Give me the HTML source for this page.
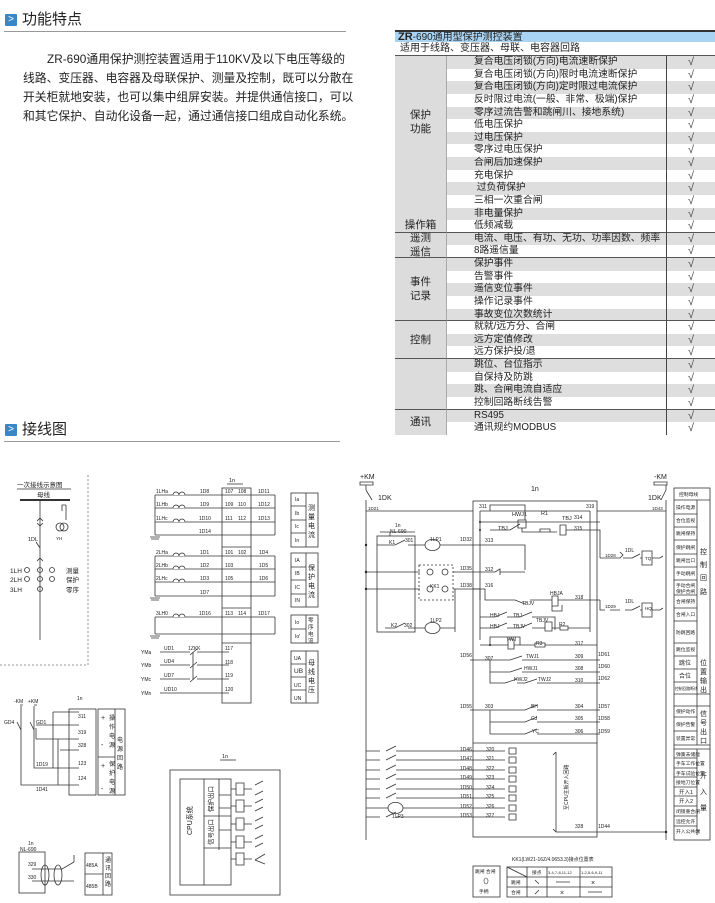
<!DOCTYPE html>
<html><head><meta charset="utf-8">
<style>
*{margin:0;padding:0;box-sizing:border-box}
body{width:715px;height:903px;background:#fff;position:relative;overflow:hidden;font-family:"Liberation Sans","Noto Sans CJK SC",sans-serif;color:#222}
.hd{position:absolute;left:5px;font-size:15px;color:#222}
.hd .ic{display:inline-block;width:12px;height:12px;background:#3a87c8;color:#fff;font-size:10px;line-height:12px;text-align:center;vertical-align:2px;margin-right:5px;border-radius:1px}
.hr{position:absolute;left:4px;height:1px;background:#999}
.pl{position:absolute;font-size:11.8px;line-height:15px;white-space:nowrap;text-align:justify;text-align-last:justify;color:#222}
#tbl{position:absolute;left:395px;top:30px;width:320px}
.grid{display:grid;grid-template-columns:52px 220px 48px;grid-auto-rows:12.63px;font-size:9.8px}
.g{background:#dcdcdc;border-right:1px solid #aaa;display:flex;flex-direction:column;justify-content:center;align-items:center;font-size:10.5px;line-height:14px;border-bottom:1px solid #555}
.it{padding-left:27px;line-height:12.6px;white-space:nowrap;border-right:1px solid #444}
.ck{text-align:center;line-height:12.6px;font-size:11px;color:#444}
.s{background:#dedede}
.sep{border-bottom:1px solid #555}
svg text{font-family:"Liberation Sans","Noto Sans CJK SC",sans-serif}
</style></head><body>
<div class="hd" style="top:8px"><span class="ic">&gt;</span>功能特点</div>
<div class="hr" style="top:31px;width:342px"></div>
<div class="pl" style="left:47px;top:52px;width:298px">ZR-690通用保护测控装置适用于110KV及以下电压等级的</div>
<div class="pl" style="left:23px;top:71px;width:322px">线路、变压器、电容器及母联保护、测量及控制，既可以分散在</div>
<div class="pl" style="left:23px;top:90px;width:322px">开关柜就地安装，也可以集中组屏安装。并提供通信接口，可以</div>
<div class="pl" style="left:23px;top:109px;width:310px">和其它保护、自动化设备一起，通过通信接口组成自动化系统。</div>
<div class="hd" style="top:418px"><span class="ic">&gt;</span>接线图</div>
<div class="hr" style="top:441px;width:336px"></div>

<div id="tbl">
<div style="height:12px;background:#a9d3f2;border-top:2px solid #333;font-size:10px;line-height:10px;padding-left:3px"><b style="font-size:11px">ZR</b>-690通用型保护测控装置</div>
<div style="height:14px;font-size:10px;line-height:13px;padding-left:5px;border-bottom:1px solid #555">适用于线路、变压器、母联、电容器回路</div>
<div class="grid">
<div class="g" style="grid-row:1/15;justify-content:space-between;padding:52px 0 0"><span>保护<br>功能</span><span>操作箱</span></div>
<div class="it s">复合电压闭锁(方向)电流速断保护</div><div class="ck s">√</div>
<div class="it">复合电压闭锁(方向)限时电流速断保护</div><div class="ck">√</div>
<div class="it s">复合电压闭锁(方向)定时限过电流保护</div><div class="ck s">√</div>
<div class="it">反时限过电流(一般、非常、极端)保护</div><div class="ck">√</div>
<div class="it s">零序过流告警和跳闸川、接地系统)</div><div class="ck s">√</div>
<div class="it">低电压保护</div><div class="ck">√</div>
<div class="it s">过电压保护</div><div class="ck s">√</div>
<div class="it">零序过电压保护</div><div class="ck">√</div>
<div class="it s">合闸后加速保护</div><div class="ck s">√</div>
<div class="it">充电保护</div><div class="ck">√</div>
<div class="it s">&nbsp;过负荷保护</div><div class="ck s">√</div>
<div class="it">三相一次重合闸</div><div class="ck">√</div>
<div class="it s">非电量保护</div><div class="ck s">√</div>
<div class="it sep">低频减载</div><div class="ck sep">√</div>
<div class="g" style="grid-row:15/17">遥测<br>遥信</div>
<div class="it s">电流、电压、有功、无功、功率因数、频率</div><div class="ck s">√</div>
<div class="it sep">8路遥信量</div><div class="ck sep">√</div>
<div class="g" style="grid-row:17/22">事件<br>记录</div>
<div class="it s">保护事件</div><div class="ck s">√</div>
<div class="it">告警事件</div><div class="ck">√</div>
<div class="it s">遥信变位事件</div><div class="ck s">√</div>
<div class="it">操作记录事件</div><div class="ck">√</div>
<div class="it s sep">事故变位次数统计</div><div class="ck s sep">√</div>
<div class="g" style="grid-row:22/25">控制</div>
<div class="it">就就/远方分、合闸</div><div class="ck">√</div>
<div class="it s">远方定值修改</div><div class="ck s">√</div>
<div class="it sep">远方保护投/退</div><div class="ck sep">√</div>
<div class="g" style="grid-row:25/29"></div>
<div class="it s">跳位、台位指示</div><div class="ck s">√</div>
<div class="it">自保持及防跳</div><div class="ck">√</div>
<div class="it s">跳、合闸电流自适应</div><div class="ck s">√</div>
<div class="it sep">控制回路断线告警</div><div class="ck sep">√</div>
<div class="g" style="grid-row:29/31;border-bottom:none">通讯</div>
<div class="it s">RS495</div><div class="ck s">√</div>
<div class="it">通讯规约MODBUS</div><div class="ck">√</div>
</div></div>

<svg width="715" height="903" style="position:absolute;left:0;top:0" stroke="#333" stroke-width="0.8" fill="none" font-size="5.5">
<!-- primary diagram -->
<g>
<path d="M88 475V665M0 665H88" stroke-dasharray="2,2" stroke="#777"/>
<text x="17" y="487" fill="#222" stroke="none" font-size="6.5">一次接线示意图</text>
<path d="M17 489H71"/>
<text x="37" y="497" fill="#222" stroke="none" font-size="6.5">母线</text>
<path d="M20 500H70" stroke-width="2"/>
<path d="M40 500V640M40 518l-3 3M40 518l3 3M40 526l-3-3M40 526l3-3M40 548l-4-6M40 558l-3 3M40 558l3 3M66 505v15M66 505l-4 0v6"/>
<circle cx="60" cy="527" r="4"/><circle cx="64" cy="527" r="4"/>
<text x="28" y="541" fill="#222" stroke="none">1DL</text>
<text x="56" y="540" fill="#222" stroke="none" font-size="4.5">YH</text>
<text x="10" y="573" fill="#222" stroke="none" font-size="6.5">1LH</text>
<text x="10" y="582" fill="#222" stroke="none" font-size="6.5">2LH</text>
<text x="10" y="592" fill="#222" stroke="none" font-size="6.5">3LH</text>
<circle cx="27" cy="570" r="2.5"/><circle cx="40" cy="570" r="2.5"/><circle cx="52" cy="570" r="2.5"/>
<circle cx="27" cy="579" r="2.5"/><circle cx="40" cy="579" r="2.5"/><circle cx="52" cy="579" r="2.5"/>
<circle cx="40" cy="589" r="2.5"/>
<text x="66" y="573" fill="#222" stroke="none" font-size="6.5">测量</text>
<text x="66" y="582" fill="#222" stroke="none" font-size="6.5">保护</text>
<text x="66" y="592" fill="#222" stroke="none" font-size="6.5">零序</text>
</g>
<!-- CT section -->
<g>
<text x="229" y="482" fill="#222" stroke="none">1n</text><path d="M227 484H243"/>
<rect x="222" y="488" width="29" height="215"/>
<path d="M222 547H251M222 608H251M222 643H251"/>
<path d="M155 495V535M155 556V596M155 617V634M150 537h10M151 539h8M150 598h10M151 600h8M150 636h10M151 638h8"/>
<path d="M155 495H275M155 508H275M155 522H275M155 535H275M275 495V535"/>
<path d="M155 556H275M155 569H275M155 582H275M155 596H275M275 556V596"/>
<path d="M155 617H275M155 634H275M275 617V634"/>
<g fill="#fff"><path d="M173 495a3 3 0 0 1 6 0a3 3 0 0 1 6 0M173 508a3 3 0 0 1 6 0a3 3 0 0 1 6 0M173 522a3 3 0 0 1 6 0a3 3 0 0 1 6 0M173 556a3 3 0 0 1 6 0a3 3 0 0 1 6 0M173 569a3 3 0 0 1 6 0a3 3 0 0 1 6 0M173 582a3 3 0 0 1 6 0a3 3 0 0 1 6 0M173 617a3 3 0 0 1 6 0a3 3 0 0 1 6 0"/></g>
<g fill="#222" stroke="none" font-size="5">
<text x="156" y="493">1LHa</text><text x="156" y="506">1LHb</text><text x="156" y="520">1LHc</text>
<text x="156" y="554">2LHa</text><text x="156" y="567">2LHb</text><text x="156" y="580">2LHc</text><text x="156" y="615">3LH0</text>
<text x="200" y="493">1D8</text><text x="200" y="506">1D9</text><text x="199" y="520">1D10</text><text x="199" y="533">1D14</text>
<text x="200" y="554">1D1</text><text x="200" y="567">1D2</text><text x="200" y="580">1D3</text><text x="200" y="594">1D7</text><text x="199" y="615">1D16</text>
<text x="225" y="493">107</text><text x="238" y="493">108</text><text x="225" y="506">109</text><text x="238" y="506">110</text><text x="225" y="520">111</text><text x="238" y="520">112</text>
<text x="225" y="554">101</text><text x="238" y="554">102</text><text x="225" y="567">103</text><text x="225" y="580">105</text>
<text x="225" y="615">113</text><text x="238" y="615">114</text>
<text x="258" y="493">1D11</text><text x="258" y="506">1D12</text><text x="258" y="520">1D13</text>
<text x="259" y="554">1D4</text><text x="259" y="567">1D5</text><text x="259" y="580">1D6</text><text x="258" y="615">1D17</text>
<text x="225" y="650">117</text><text x="225" y="664">118</text><text x="225" y="677">119</text><text x="225" y="691">120</text>
<text x="141" y="654">YMa</text><text x="141" y="667">YMb</text><text x="141" y="681">YMc</text><text x="141" y="695">YMn</text>
<text x="164" y="650">UD1</text><text x="164" y="663">UD4</text><text x="164" y="677">UD7</text><text x="164" y="691">UD10</text><text x="188" y="650">1ZKK</text>
</g>
<path d="M160 652H190M197 652H229M160 665H190M197 665H229M160 679H190M197 679H229M160 693H229M190 655l7-6M190 668l7-6M190 682l7-6M193 652V680" />
<rect x="291" y="493" width="27" height="54"/><rect x="291" y="553" width="27" height="54"/><rect x="291" y="615" width="27" height="28"/><rect x="291" y="651" width="27" height="52"/>
<path d="M306 493V547M291 506H306M291 520H306M291 533H306M306 553V607M291 567H306M291 580H306M291 594H306M306 615V643M291 629H306M306 651V703M291 664H306M291 677H306M291 690H306"/>
<g fill="#222" stroke="none" font-size="5">
<text x="295" y="501">Ia</text><text x="295" y="515">Ib</text><text x="295" y="528">Ic</text><text x="295" y="542">In</text>
<text x="295" y="562">IA</text><text x="295" y="575">IB</text><text x="295" y="589">IC</text><text x="295" y="602">IN</text>
<text x="295" y="624">Io</text><text x="295" y="638">Io'</text>
<text x="294" y="660">UA</text><text x="294" y="673" font-size="6.5">UB</text><text x="294" y="687">UC</text><text x="294" y="700">UN</text>
<g font-size="7"><text x="308" y="510">测</text><text x="308" y="519">量</text><text x="308" y="528">电</text><text x="308" y="537">流</text>
<text x="308" y="570">保</text><text x="308" y="579">护</text><text x="308" y="588">电</text><text x="308" y="597">流</text>
<text x="308" y="622" font-size="5.5">零</text><text x="308" y="629" font-size="5.5">序</text><text x="308" y="636" font-size="5.5">电</text><text x="308" y="643" font-size="5.5">流</text>
<text x="308" y="665">母</text><text x="308" y="674">线</text><text x="308" y="683">电</text><text x="308" y="692">压</text></g>
</g>
</g>
<!-- power supply -->
<g>
<g fill="#222" stroke="none" font-size="5"><text x="14" y="703">-KM</text><text x="28" y="703">+KM</text><text x="4" y="724">GD4</text><text x="36" y="724">GD1</text>
<text x="36" y="766">1D19</text><text x="36" y="791">1D41</text><text x="77" y="700">1n</text>
<text x="78" y="718">311</text><text x="78" y="734">319</text><text x="78" y="747">328</text><text x="78" y="765">123</text><text x="78" y="780">124</text>
<text x="101" y="720" font-size="7">+</text><text x="101" y="747" font-size="7">-</text><text x="101" y="768" font-size="7">+</text><text x="101" y="791" font-size="7">-</text>
<g font-size="6"><text x="109" y="720">操</text><text x="109" y="729">作</text><text x="109" y="738">电</text><text x="109" y="747">源</text><text x="109" y="766">保</text><text x="109" y="775">护</text><text x="109" y="784">电</text><text x="109" y="793">源</text>
<text x="117" y="742">电</text><text x="117" y="751">源</text><text x="117" y="760">回</text><text x="117" y="769">路</text></g></g>
<path d="M20 705H23M34 705H37M21 706V730M34 706V730M21 730l-4-8M34 730l-4-8M21 730V785H79M34 730V768H79M36 739H79M58 739V785M53 712V768M36 739V728M53 712H79M36 725H79M60 750H79"/>
<rect x="69" y="709" width="27" height="86"/><rect x="98" y="709" width="27" height="86"/><path d="M115 709V795M98 757H115"/>
</g>
<!-- 485 -->
<g>
<rect x="19" y="852" width="26" height="41"/><rect x="85" y="853" width="27" height="42"/><path d="M103 853V895M85 874H103"/>
<g fill="#222" stroke="none" font-size="5"><text x="28" y="845">1n</text><text x="20" y="851">NL-690</text><text x="28" y="866">329</text><text x="28" y="879">330</text>
<text x="86" y="867">485A</text><text x="86" y="888">485B</text><text x="105" y="862" font-size="6">通</text><text x="105" y="870" font-size="6">讯</text><text x="105" y="878" font-size="6">回</text><text x="105" y="886" font-size="6">路</text></g>
<path d="M32 869H62l12-7M32 881H62l12 0M74 862V855"/><ellipse cx="45" cy="875" rx="4" ry="10"/><ellipse cx="58" cy="875" rx="4" ry="10"/>
</g>
<!-- CPU -->
<g>
<text x="222" y="758" fill="#222" stroke="none">1n</text><path d="M220 760H236"/>
<rect x="170" y="770" width="110" height="125"/><rect x="180" y="779" width="51" height="106"/>
<path d="M204 779V885M219 779V850M204 848H231M204 816H231M219 795H231M219 808H231M219 830H231"/>
<text x="192" y="835" fill="#222" stroke="none" font-size="7" transform="rotate(-90 192 835)">CPU系统</text>
<text x="213" y="812" fill="#222" stroke="none" font-size="6.5" transform="rotate(-90 213 812)">保护出口</text>
<text x="213" y="845" fill="#222" stroke="none" font-size="6.5" transform="rotate(-90 213 845)">信号出口</text>
<path d="M236 783h8v12h-8zM236 800h8v12h-8zM236 818h8v12h-8zM236 836h8v12h-8zM236 853h8v12h-8zM231 789h5M231 806h5M231 824h5M231 842h5M231 859h5M244 789h8M244 806h8M244 824h8M244 842h8M244 859h8M255 785l8-4M255 795l8-4M255 803l8-4M255 811l8-4M255 821l8-4M255 829l8-4M255 839l8-4M255 847l8-4M255 860l10-6M255 860l10 4"/>
</g>
<!-- right circuit -->
<g>
<g fill="#222" stroke="none" font-size="5.5">
<text x="360" y="479" font-size="7">+KM</text><text x="378" y="500" font-size="7">1DK</text><text x="368" y="510" font-size="4.5">1D21</text>
<text x="654" y="479" font-size="7">-KM</text><text x="648" y="500" font-size="7">1DK</text><text x="652" y="510" font-size="4.5">1D43</text>
<text x="531" y="491" font-size="7">1n</text>
<text x="479" y="508" font-size="5">311</text><text x="586" y="508" font-size="5">319</text>
<text x="512" y="516">HWJ1</text><text x="541" y="515">R1</text><text x="574" y="519" font-size="5">314</text><text x="562" y="520">TBJ</text><text x="574" y="530" font-size="5">315</text><text x="498" y="530">TBJ</text>
<text x="395" y="527" font-size="5">1n</text><text x="390" y="533" font-size="5">NL-690</text>
<text x="389" y="544" font-size="5">K1</text><text x="405" y="542" font-size="5">301</text><text x="430" y="541" font-size="5">1LP1</text><text x="460" y="541" font-size="5">1D32</text><text x="485" y="542" font-size="5">313</text>
<text x="460" y="570" font-size="5">1D35</text><text x="485" y="571" font-size="5">312</text><text x="430" y="588" font-size="5">KK1</text>
<text x="460" y="587" font-size="5">1D38</text><text x="485" y="587" font-size="5">316</text>
<text x="550" y="595" font-size="5">HBJA</text><text x="522" y="605" font-size="5">TBJV</text><text x="575" y="599" font-size="5">318</text>
<text x="490" y="617" font-size="5">HBJ</text><text x="513" y="617" font-size="5">TBJ</text><text x="490" y="628" font-size="5">HBJ</text><text x="513" y="628" font-size="5">TBJV</text><text x="536" y="622" font-size="5">TBJV</text><text x="559" y="626" font-size="5">R2</text>
<text x="391" y="627" font-size="5">K2</text><text x="404" y="627" font-size="5">302</text><text x="430" y="622" font-size="5">1LP2</text>
<text x="506" y="641" font-size="5">TWJ</text><text x="536" y="645" font-size="5">R3</text><text x="575" y="645" font-size="5">317</text>
<text x="460" y="657" font-size="5">1D56</text><text x="485" y="660" font-size="5">307</text><text x="526" y="658" font-size="5">TWJ1</text><text x="575" y="658" font-size="5">309</text><text x="598" y="656" font-size="5">1D61</text>
<text x="524" y="670" font-size="5">HWJ1</text><text x="575" y="670" font-size="5">308</text><text x="598" y="668" font-size="5">1D60</text>
<text x="514" y="681" font-size="5">HWJ2</text><text x="538" y="681" font-size="5">TWJ2</text><text x="575" y="682" font-size="5">310</text><text x="598" y="680" font-size="5">1D62</text>
<text x="460" y="708" font-size="5">1D55</text><text x="485" y="708" font-size="5">303</text><text x="531" y="708" font-size="5">BH</text><text x="575" y="708" font-size="5">304</text><text x="598" y="708" font-size="5">1D57</text>
<text x="531" y="720" font-size="5">GJ</text><text x="575" y="720" font-size="5">305</text><text x="598" y="720" font-size="5">1D58</text>
<text x="532" y="733" font-size="5">YC</text><text x="575" y="733" font-size="5">306</text><text x="598" y="733" font-size="5">1D59</text>
<text x="460" y="751" font-size="5">1D46</text><text x="460" y="760" font-size="5">1D47</text><text x="460" y="770" font-size="5">1D48</text><text x="460" y="779" font-size="5">1D49</text><text x="460" y="789" font-size="5">1D50</text><text x="460" y="798" font-size="5">1D51</text><text x="460" y="808" font-size="5">1D52</text><text x="460" y="817" font-size="5">1D53</text>
<text x="486" y="751" font-size="5">320</text><text x="486" y="760" font-size="5">321</text><text x="486" y="770" font-size="5">322</text><text x="486" y="779" font-size="5">323</text><text x="486" y="789" font-size="5">324</text><text x="486" y="798" font-size="5">325</text><text x="486" y="808" font-size="5">326</text><text x="486" y="817" font-size="5">327</text>
<text x="575" y="828" font-size="5">328</text><text x="598" y="828" font-size="5">1D44</text><text x="392" y="818" font-size="5">1LP3</text>
<text x="605" y="557" font-size="4.5">1D28</text><text x="625" y="552" font-size="5">1DL</text><text x="645" y="560" font-size="4.5">TQ</text>
<text x="605" y="608" font-size="4.5">1D29</text><text x="625" y="603" font-size="5">1DL</text><text x="645" y="610" font-size="4.5">HQ</text>
</g>
<text x="568" y="810" fill="#222" stroke="none" font-size="5" transform="rotate(-90 568 810)">至CPU主板开入回路</text>
<path d="M360 482h13v3h-13zM654 482h13v3h-13zM366 485v5M366 490l6 10M366 500V840M666 485v5M666 490l-5 10M666 500V840"/>
<rect x="473" y="501" width="124" height="336"/><path d="M473 743H597"/>
<path d="M366 511H473M597 511H666M480 511H590M480 511V640M590 511V632"/>
<path d="M490 511V505H525V520M518 520h8v8h-8zM522 528V532H540H550M540 532h10v-3h-10zM550 532H557M560 525h6v10h-6zM566 530H600V558M480 522H600M490 530H510l10-6"/>
<rect x="377" y="536" width="38" height="96"/><path d="M390 536V532M415 532H380"/>
<path d="M377 545H395l10-5M408 545H425M425 545a4 3 0 0 0 15 0a4 3 0 0 0-15 0M440 545H525V570M366 572H420M453 572H495l5-3v6M500 572H525M366 589H420M453 589H480V600M455 589V632"/>
<rect x="419" y="565" width="34" height="35" stroke-dasharray="2,2"/>
<circle cx="430" cy="572" r="3"/><circle cx="445" cy="572" r="3"/><circle cx="430" cy="589" r="3"/><circle cx="445" cy="589" r="3"/>
<path d="M473 589H485V600H515l10 4M530 600H552M552 596h6v10h-6zM558 600H600M600 600V610H605M552 605v6h10v-6M385 628H395l10-5M408 628H425M425 628a4 3 0 0 0 15 0a4 3 0 0 0-15 0M440 628H455M480 617H495l12-5M507 617H520l12-5M532 617H555V630M480 628H495l12-5M507 628H520l12-5M532 628H545M545 622h7v9h-7zM552 628H560M560 626h8v4h-8zM568 628H590"/>
<path d="M480 645H508M508 639h6v10h-6zM514 645H535M535 643h10v4h-10zM545 645H597M490 645V637H520V645"/>
<path d="M470 660H490M490 660H510l12-4M522 660H600M490 660V683H505l12-4M517 683H525l12-4M537 683H600M490 672H510l12-4M522 672H600"/>
<path d="M470 710H490M490 710V734M490 710H525l12-5M537 710H600M490 722H525l12-5M537 722H600M490 734H525l12-5M537 734H600"/>
<path d="M600 558H620l3-3-3-3M623 558H632l8-4M640 558H642M642 551h10v14h-10zM652 558h8l3-2M610 610H620M625 610H632l8-4M640 610H642M642 603h10v14h-10zM652 610h8l3-2"/>
<path d="M366 751H380M386 751l10-5M396 751H505M366 760H380M386 760l10-5M396 760H505M366 770H380M386 770l10-5M396 770H505M366 779H380M386 779l10-5M396 779H505M366 789H380M386 789l10-5M396 789H505M366 798H380M386 798l10-5M396 798H505M366 808H388M388 808a4 3 0 0 0 15 0a4 3 0 0 0-15 0M403 808H505M366 817H380M386 817l10-5M396 817H505"/>
<path d="M509 748h7v6h-7zM509 757h7v6h-7zM509 767h7v6h-7zM509 776h7v6h-7zM509 786h7v6h-7zM509 795h7v6h-7zM509 805h7v6h-7zM509 814h7v6h-7zM556 752V832M556 752l-3 3M556 832l-3-3M556 832H666"/>
<g fill="#222" stroke="none"><circle cx="366" cy="545" r="1.2"/><circle cx="366" cy="572" r="1.2"/><circle cx="366" cy="589" r="1.2"/><circle cx="666" cy="832" r="1.2"/><circle cx="480" cy="522" r="1"/><circle cx="480" cy="530" r="1"/><circle cx="490" cy="645" r="1"/></g>
</g>
<!-- right label column -->
<g>
<rect x="674" y="488" width="36" height="352"/>
<path d="M674 500H710M697 500V745M697 749V835M674 745H710M674 749H710M674 694H710M674 706H710"/>
<path d="M674 514H697M674 527H697M674 540H697M674 554H697M674 567H697M674 580H697M674 595H697M674 608H697M674 621H697M674 643H697M674 656H697M674 669H697M674 682H697M674 717H697M674 731H697M674 758H697M674 768H697M674 777H697M674 787H697M674 796H697M674 806H697M674 816H697M674 826H697"/>
<g fill="#222" stroke="none" font-size="4.8">
<text x="679" y="496">控制母线</text><text x="676" y="509">操作电源</text><text x="676" y="522">合位监视</text><text x="676" y="535">跳闸保持</text><text x="676" y="549">保护跳闸</text><text x="676" y="562">跳闸出口</text><text x="676" y="575">手动跳闸</text><text x="676" y="587">手动合闸</text><text x="676" y="593">保护合闸</text><text x="676" y="603">合闸保持</text><text x="676" y="616">合闸入口</text><text x="676" y="634">防跳回路</text><text x="676" y="651">跳位监视</text>
<text x="679" y="665" font-size="6">跳位</text><text x="679" y="678" font-size="6">合位</text><text x="675" y="690" font-size="3.8">控制回路断线</text>
<text x="676" y="713">保护动作</text><text x="676" y="726">保护告警</text><text x="676" y="740">装置异常</text>
<text x="676" y="756">弹簧未储能</text><text x="676" y="765">手车工作位置</text><text x="676" y="775">手车试验位置</text><text x="676" y="784">接地刀位置</text><text x="679" y="794" font-size="5.5">开入1</text><text x="679" y="803" font-size="5.5">开入2</text><text x="676" y="813">闭锁重合闸</text><text x="676" y="823">远控允许</text><text x="676" y="833">开入公共端</text>
<g font-size="7"><text x="700" y="554">控</text><text x="700" y="567">制</text><text x="700" y="580">回</text><text x="700" y="594">路</text>
<text x="700" y="665">位</text><text x="700" y="674">置</text><text x="700" y="683">输</text><text x="700" y="692">出</text>
<text x="700" y="716">信</text><text x="700" y="725">号</text><text x="700" y="734">出</text><text x="700" y="743">口</text>
<text x="700" y="778">开</text><text x="700" y="794">入</text><text x="700" y="810">量</text></g>
</g>
</g>
<!-- KK1 table -->
<g>
<text x="512" y="861" fill="#222" stroke="none" font-size="5">KK1(LW21-16Z/4.0653.3)接点位置表</text>
<rect x="473" y="866" width="27" height="31"/>
<rect x="507" y="867" width="105" height="30"/>
<path d="M507 877H612M507 887H612M527 867V897M547 867V897M580 867V897M507 867l20 10"/>
<g fill="#222" stroke="none" font-size="4.8"><text x="475" y="873">跳闸 合闸</text><ellipse cx="486" cy="881" rx="2" ry="3" fill="none" stroke="#333" stroke-width="0.6"/><text x="479" y="893">手柄</text>
<text x="532" y="874">接点</text><text x="548" y="874" font-size="4">3-4,7-8,11-12</text><text x="581" y="874" font-size="4">1-2,5-6,9-11</text>
<text x="511" y="884">跳闸</text><text x="511" y="894">合闸</text><text x="591" y="885" font-size="7">×</text><text x="560" y="895" font-size="7">×</text></g>
<path d="M535 880l4 4M535 894l4-4M556 882H570M588 892H602"/>
</g>
</svg>
</body></html>
